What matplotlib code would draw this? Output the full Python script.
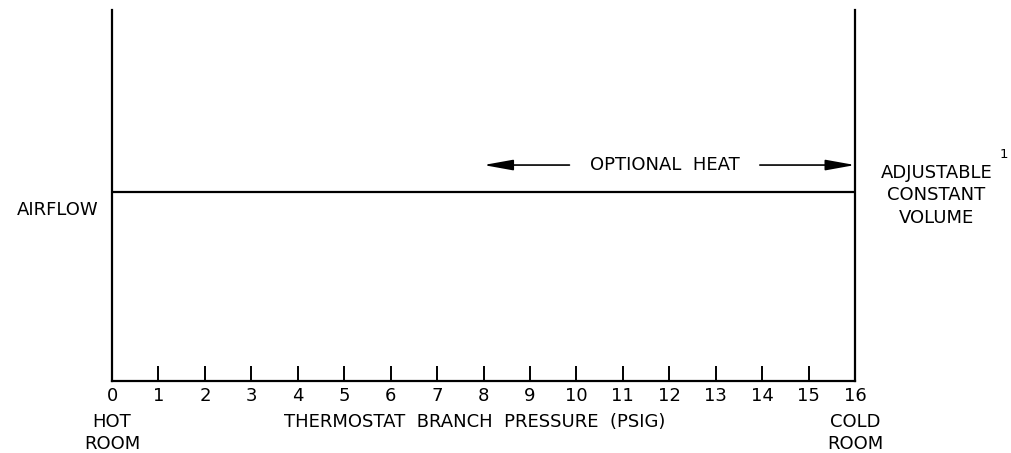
import matplotlib.pyplot as plt

# данные графика
pressure_ticks = list(range(0, 17))
airflow_x = [0, 16]
airflow_y = [0.51, 0.51]
heat_start = 8
heat_end = 16
heat_level = 0.582

fig = plt.figure(figsize=(10.12, 4.53), dpi=100)
ax = fig.add_axes([0.1107, 0.159, 0.7342, 0.819])

ax.plot(airflow_x, airflow_y, color='black', lw=1.6)
ax.set_xlim(0, 16)
ax.set_ylim(0, 1)

for s in ['left', 'right', 'bottom']:
    ax.spines[s].set_linewidth(1.6)
ax.spines['top'].set_visible(False)

ax.set_xticks(pressure_ticks)
ax.set_xticklabels([str(t) for t in pressure_ticks])
ax.set_yticks([])
ax.tick_params(axis='x', direction='in', length=11, width=1.4, pad=4, labelsize=13)

# стрелки "OPTIONAL HEAT"
ax.text(11.9, heat_level, 'OPTIONAL  HEAT', ha='center', va='center', fontsize=13)
ax.annotate('', xy=(heat_start, heat_level), xytext=(9.85, heat_level),
            arrowprops=dict(arrowstyle='-|>,head_length=1.0,head_width=0.18', color='black',
                            lw=1.2, mutation_scale=18, shrinkA=0, shrinkB=0))
ax.annotate('', xy=(heat_end, heat_level), xytext=(13.95, heat_level),
            arrowprops=dict(arrowstyle='-|>,head_length=1.0,head_width=0.18', color='black',
                            lw=1.2, mutation_scale=18, shrinkA=0, shrinkB=0))

# подписи
ax.text(-0.3, 0.46, 'AIRFLOW', ha='right', va='center', fontsize=13)
ax.text(17.75, 0.5, 'ADJUSTABLE\nCONSTANT\nVOLUME', ha='center', va='center',
        fontsize=13, linespacing=1.33, clip_on=False)
ax.text(19.2, 0.61, '1', ha='center', va='center', fontsize=9.5, clip_on=False)

ax.text(0, -0.087, 'HOT\nROOM', ha='center', va='top', fontsize=13, linespacing=1.25,
        clip_on=False)
ax.text(16, -0.087, 'COLD\nROOM', ha='center', va='top', fontsize=13, linespacing=1.25,
        clip_on=False)
ax.text(7.8, -0.087, 'THERMOSTAT  BRANCH  PRESSURE  (PSIG)', ha='center', va='top',
        fontsize=13, clip_on=False)

plt.savefig('out.png', dpi=100)
